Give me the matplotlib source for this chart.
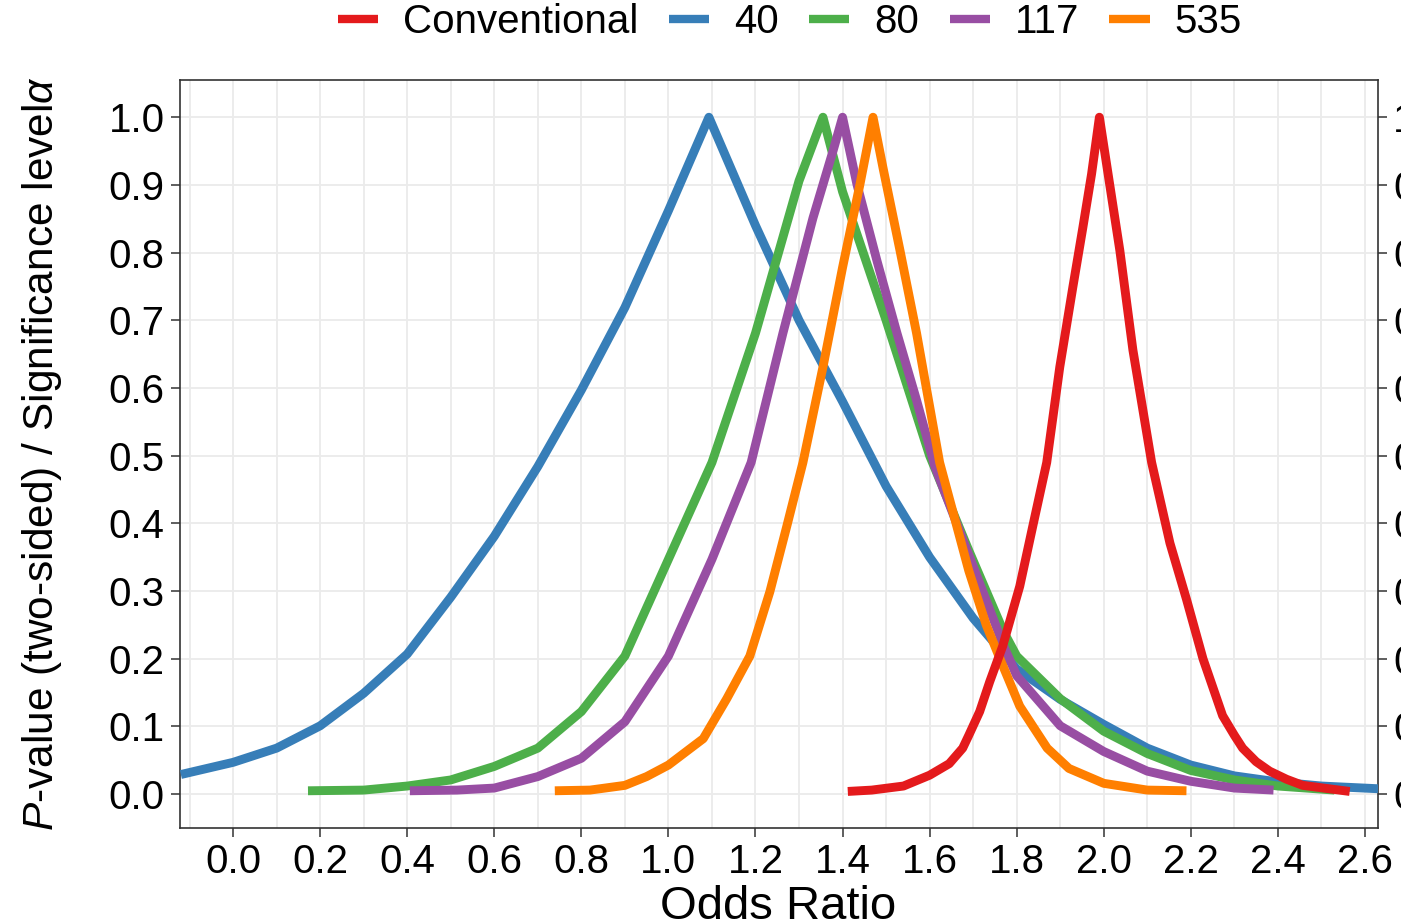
import matplotlib
matplotlib.use("Agg")
import matplotlib.pyplot as plt
from matplotlib.ticker import MultipleLocator

plt.rcParams["font.family"] = ["Liberation Sans", "DejaVu Sans"]
plt.rcParams["mathtext.fontset"] = "custom"
plt.rcParams["mathtext.rm"] = "Liberation Sans"
plt.rcParams["mathtext.it"] = "Liberation Sans:italic"

# values (odds ratio, two-sided p-value)
x_40 = [-0.12, 0.0, 0.1, 0.2, 0.3, 0.4, 0.5, 0.6, 0.7, 0.8, 0.9, 1.0, 1.093,
        1.2, 1.3, 1.4, 1.5, 1.6, 1.7, 1.8, 1.9, 2.0, 2.1, 2.2, 2.3, 2.4, 2.5, 2.63]
p_40 = [0.029, 0.047, 0.068, 0.101, 0.149, 0.207, 0.291, 0.381, 0.484, 0.597, 0.719, 0.862, 1.0,
        0.84, 0.70, 0.58, 0.455, 0.35, 0.26, 0.185, 0.14, 0.103, 0.068, 0.043, 0.027, 0.018, 0.012, 0.008]

x_80 = [0.172, 0.3, 0.4, 0.5, 0.6, 0.7, 0.8, 0.9, 1.0, 1.1, 1.2, 1.3, 1.355,
        1.4, 1.5, 1.6, 1.69, 1.77, 1.8, 1.9, 2.0, 2.1, 2.2, 2.3, 2.4, 2.53]
p_80 = [0.005, 0.006, 0.012, 0.021, 0.041, 0.068, 0.122, 0.204, 0.347, 0.49, 0.681, 0.906, 1.0,
        0.89, 0.70, 0.50, 0.36, 0.24, 0.204, 0.141, 0.093, 0.06, 0.035, 0.021, 0.012, 0.006]

x_117 = [0.406, 0.514, 0.6, 0.7, 0.8, 0.9, 1.0, 1.1, 1.19, 1.263, 1.332, 1.378, 1.40,
         1.433, 1.479, 1.525, 1.57, 1.612, 1.692, 1.77, 1.8, 1.9, 2.0, 2.1, 2.2, 2.3, 2.39]
p_117 = [0.005, 0.006, 0.009, 0.026, 0.053, 0.107, 0.204, 0.347, 0.49, 0.681, 0.851, 0.95, 1.0,
         0.901, 0.788, 0.681, 0.582, 0.484, 0.35, 0.219, 0.175, 0.101, 0.063, 0.034, 0.019, 0.009, 0.006]

x_535 = [0.739, 0.82, 0.9, 0.95, 1.0, 1.08, 1.134, 1.187, 1.233, 1.272, 1.309, 1.355, 1.40, 1.44, 1.47,
         1.493, 1.532, 1.57, 1.623, 1.69, 1.73, 1.768, 1.807, 1.87, 1.92, 2.0, 2.1, 2.19]
p_535 = [0.005, 0.006, 0.013, 0.026, 0.043, 0.082, 0.141, 0.204, 0.299, 0.396, 0.49, 0.631, 0.778, 0.901, 1.0,
         0.925, 0.803, 0.681, 0.49, 0.33, 0.25, 0.19, 0.13, 0.068, 0.038, 0.016, 0.006, 0.005]

x_conv = [1.412, 1.467, 1.54, 1.6, 1.645, 1.676, 1.69, 1.715, 1.738, 1.768, 1.807, 1.837, 1.869, 1.899,
          1.929, 1.952, 1.972, 1.99, 2.01, 2.037, 2.067, 2.11, 2.152, 2.19, 2.228, 2.273, 2.3,
          2.319, 2.35, 2.381, 2.42, 2.457, 2.565]
p_conv = [0.004, 0.006, 0.012, 0.028, 0.045, 0.068, 0.087, 0.122, 0.166, 0.219, 0.307, 0.396, 0.49,
          0.631, 0.749, 0.837, 0.916, 1.0, 0.916, 0.803, 0.656, 0.49, 0.371, 0.288, 0.2, 0.116,
          0.087, 0.068, 0.048, 0.034, 0.022, 0.013, 0.004]

labels = ["Conventional", "40", "80", "117", "535"]
colors = ["#E41A1C", "#377EB8", "#4DAF4A", "#984EA3", "#FF7F00"]
y_ticks = [0.0, 0.1, 0.2, 0.3, 0.4, 0.5, 0.6, 0.7, 0.8, 0.9, 1.0]
x_ticks = [0.0, 0.2, 0.4, 0.6, 0.8, 1.0, 1.2, 1.4, 1.6, 1.8, 2.0, 2.2, 2.4, 2.6]

W, H = 1401, 923
fig = plt.figure(figsize=(W / 100, H / 100), dpi=100)
ax = fig.add_axes([180 / W, 1 - 828 / H, (1378 - 180) / W, (828 - 80) / H])

series = {
    "40": (x_40, p_40),
    "80": (x_80, p_80),
    "117": (x_117, p_117),
    "535": (x_535, p_535),
    "Conventional": (x_conv, p_conv),
}
handles = {}
for name, (xs, ps) in series.items():
    c = colors[labels.index(name)]
    (ln,) = ax.plot(xs, ps, color=c, lw=6.4, solid_joinstyle="round",
                    solid_capstyle="butt", zorder=3)
    handles[name] = ln

ax.set_xlim(-0.122, 2.63)
ax.set_ylim(-0.05, 1.055)
ax.set_xticks(x_ticks)
ax.set_xticklabels([f"{v:.1f}" for v in x_ticks])
ax.xaxis.set_minor_locator(MultipleLocator(0.1))
ax.set_yticks(y_ticks)
ax.set_yticklabels([f"{v:.1f}" for v in y_ticks])
ax.grid(True, which="both", color="#EBEBEB", lw=1.3, zorder=0)
ax.set_axisbelow(True)
ax.tick_params(axis="both", which="major", labelsize=29, length=6.5, width=1.1,
               color="#333333", labelcolor="black", pad=4.5)
ax.tick_params(axis="x", which="minor", length=0)
for sp in ax.spines.values():
    sp.set_color("#333333")
    sp.set_linewidth(1.2)

# secondary axis on the right, its labels run off the figure edge as in the source
ax2 = ax.twinx()
ax2.set_ylim(ax.get_ylim())
ax2.set_yticks(y_ticks)
ax2.set_yticklabels([f"{v:.1f}" for v in y_ticks])
ax2.tick_params(axis="y", labelsize=29, length=6.5, width=1.1, color="#333333",
                labelcolor="black", pad=4.5)
for sp in ax2.spines.values():
    sp.set_visible(False)

fig.text(42 / W, 1 - 454 / H, r"$P$-value (two-sided) / Significance level$\alpha$",
         rotation=90, ha="center", va="center", fontsize=30.5)
fig.text(778 / W, 4 / H, "Odds Ratio", ha="center", va="baseline", fontsize=34)

leg = fig.legend([handles[n] for n in labels], labels, loc="center",
                 bbox_to_anchor=(790 / W, 1 - 22 / H), ncol=5, frameon=False,
                 fontsize=29, handlelength=1.0, handletextpad=0.62, columnspacing=0.75)
for lh in leg.get_lines():
    lh.set_linewidth(6)

fig.savefig("out.png", dpi=100)
plt.close(fig)
